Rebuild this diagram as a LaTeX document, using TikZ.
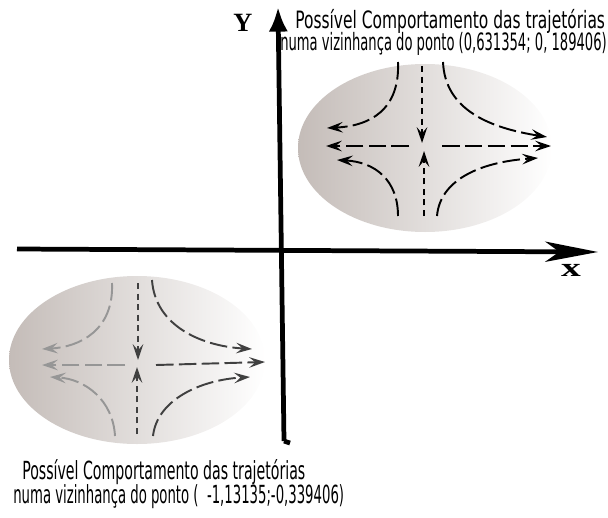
\documentclass[tikz,border=0pt]{standalone}
\usepackage{fontspec}
\setmainfont{DejaVu Sans Condensed}
\newfontfamily\labfont{Liberation Serif}
\usetikzlibrary{arrows.meta}
\definecolor{blobdark}{RGB}{196,188,184}
\definecolor{grayarrow}{RGB}{150,150,150}
\tikzset{
  axis/.style={line width=2.7pt},
  traj/.style={line width=1.1pt,dash pattern=on 10pt off 3pt,-{Stealth[length=9pt,width=6pt,inset=3.5pt]}},
  trajv/.style={line width=1.1pt,dash pattern=on 3.5pt off 2.5pt,-{Stealth[length=9pt,width=6pt,inset=3.5pt]}},
  capline/.style={anchor=base west,inner sep=0pt},
}
\begin{document}
\begin{tikzpicture}[x=0.02cm,y=-0.02cm]
\useasboundingbox (0,0) rectangle (608,517);
% shaded neighbourhoods
\shade[left color=blobdark,right color=white] (425,148) ellipse [x radius=127,y radius=84];
\shade[left color=blobdark,right color=white] (137,360) ellipse [x radius=128,y radius=84];
% axes
\coordinate (xa) at (17,249);
\coordinate (xb) at (598,252);
\coordinate (ya) at (284,441);
\coordinate (yh) at (290,443);
\coordinate (yb) at (278,7);
\draw[axis,-{Stealth[length=30pt,width=11.5pt,inset=8pt]}] (xa) -- (xb);
\draw[axis] (yh) -- (ya);
\draw[axis,-{Latex[length=14pt,width=11pt]}] (ya) -- (yb);
\node[font=\labfont\bfseries\fontsize{15}{15}\selectfont,xscale=1.5] (xlab) at (571,270) {x};
\node[font=\labfont\bfseries\fontsize{15}{15}\selectfont] (ylab) at (243,23) {Y};
% captions
\begin{scope}[font=\fontsize{13.6}{13.6}\selectfont]
\node[capline] (capAa) at (295,29) {\scalebox{0.72}[1]{Possível Comportamento das trajetórias}};
\node[capline] (capAb) at (280,51) {\scalebox{0.61}[1]{numa vizinhança do ponto (0,631354; 0, 189406)}};
\end{scope}
\begin{scope}[font=\fontsize{14.2}{14.2}\selectfont]
\node[capline] (capBa) at (22,479) {\scalebox{0.63}[1]{Possível Comportamento das trajetórias}};
\node[capline] (capBb) at (13,503) {\scalebox{0.59}[1]{numa vizinhança do ponto (\ \ -1,13135;-0,339406)}};
\end{scope}
% trajectories, upper point
\coordinate (a1) at (398,62);  \coordinate (a2) at (327,128);
\coordinate (a3) at (443,62);  \coordinate (a4) at (547,137);
\coordinate (a5) at (422,66);  \coordinate (a6) at (422,143);
\coordinate (a7) at (409,146); \coordinate (a8) at (326,146);
\coordinate (a9) at (442,146); \coordinate (a10) at (551,146);
\coordinate (a11) at (424,216); \coordinate (a12) at (424,151);
\coordinate (a13) at (398,216); \coordinate (a14) at (337,160);
\coordinate (a15) at (437,216); \coordinate (a16) at (538,158);
\draw[traj] (a1) .. controls (400,110) and (370,126) .. (a2);
\draw[traj] (a3) .. controls (445,110) and (490,128) .. (a4);
\draw[trajv] (a5) -- (a6);
\draw[traj] (a7) -- (a8);
\draw[traj] (a9) -- (a10);
\draw[trajv] (a11) -- (a12);
\draw[traj] (a13) .. controls (398,180) and (375,162) .. (a14);
\draw[traj] (a15) .. controls (440,180) and (480,162) .. (a16);
% trajectories, lower point
\coordinate (b1) at (112,283); \coordinate (b2) at (42,349);
\coordinate (b3) at (152,280); \coordinate (b4) at (252,349);
\coordinate (b5) at (138,283); \coordinate (b6) at (138,360);
\coordinate (b7) at (125,365); \coordinate (b8) at (42,365);
\coordinate (b9) at (156,365); \coordinate (b10) at (265,362);
\coordinate (b11) at (137,434); \coordinate (b12) at (137,367);
\coordinate (b13) at (115,436); \coordinate (b14) at (50,377);
\coordinate (b15) at (153,436); \coordinate (b16) at (250,377);
\draw[traj,grayarrow] (b1) .. controls (114,330) and (80,347) .. (b2);
\draw[traj,black!75] (b3) .. controls (155,325) and (200,346) .. (b4);
\draw[trajv,black!75] (b5) -- (b6);
\draw[traj,grayarrow] (b7) -- (b8);
\draw[traj,black!75] (b9) -- (b10);
\draw[trajv,black!75] (b11) -- (b12);
\draw[traj,grayarrow] (b13) .. controls (113,400) and (85,379) .. (b14);
\draw[traj,black!75] (b15) .. controls (157,400) and (200,380) .. (b16);
\end{tikzpicture}
\end{document}
